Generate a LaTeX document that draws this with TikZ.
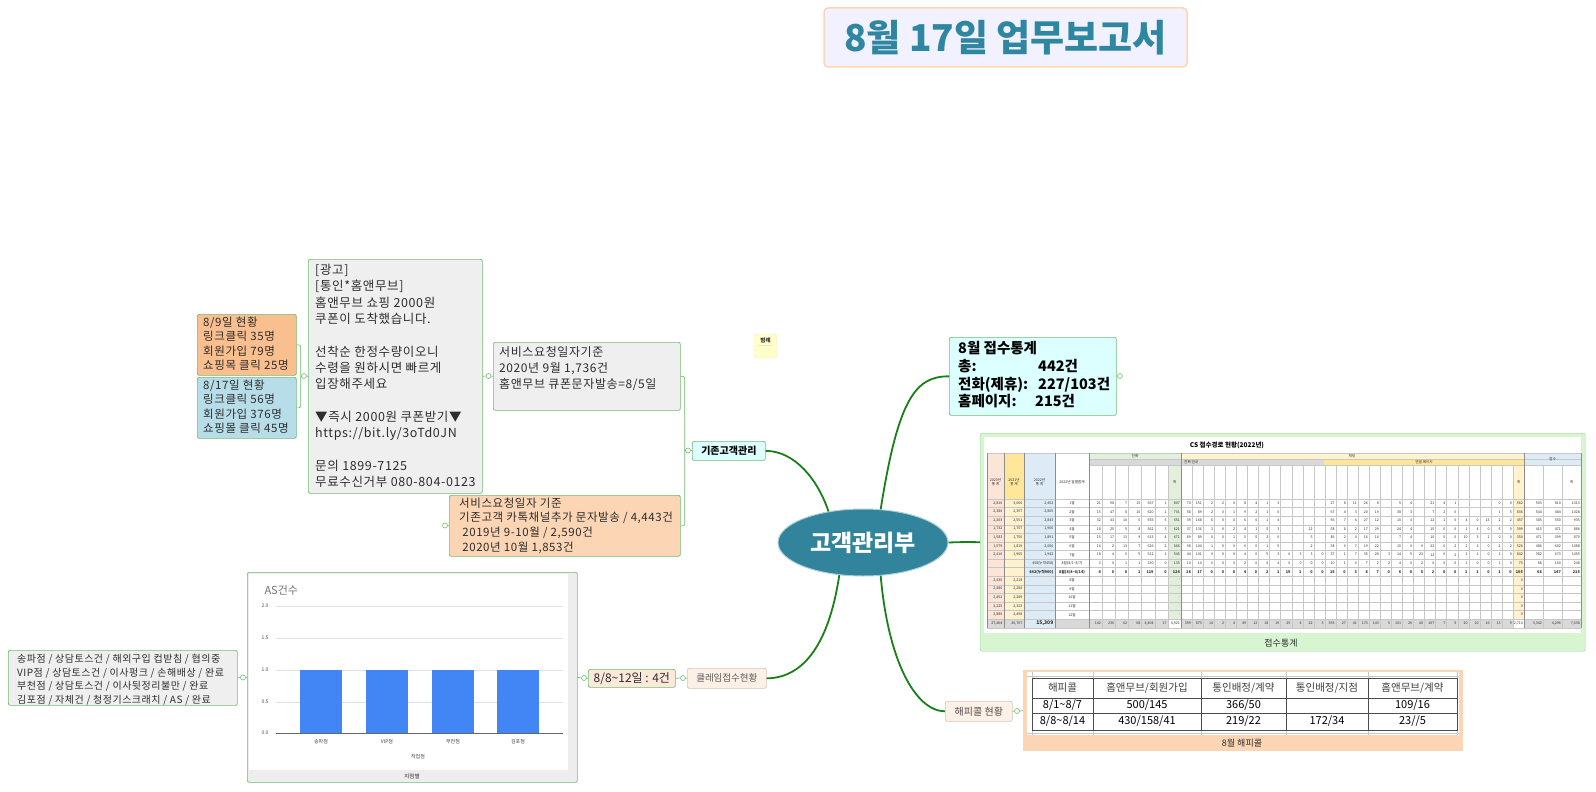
\documentclass[tikz,border=0pt]{standalone}
\usepackage{fontspec}
\setmainfont{Noto Sans CJK KR}
\newfontfamily\spacedfont[LetterSpace=5]{Noto Sans CJK KR}
\usetikzlibrary{positioning,shapes.geometric}

\definecolor{mapgreen}{RGB}{112,188,112}
\definecolor{branchgreen}{RGB}{24,128,24}
\definecolor{hubteal}{RGB}{49,132,155}
\definecolor{titleteal}{RGB}{46,134,160}
\definecolor{titlefill}{RGB}{241,241,255}
\definecolor{titleedge}{RGB}{252,214,180}
\definecolor{peachbox}{RGB}{250,191,143}
\definecolor{bluebox}{RGB}{183,221,232}
\definecolor{greybox}{RGB}{239,239,239}
\definecolor{apricot}{RGB}{252,213,180}
\definecolor{cyanbox}{RGB}{220,255,255}
\definecolor{creambox}{RGB}{253,240,230}
\definecolor{creamedge}{RGB}{214,198,184}
\definecolor{countfill}{RGB}{253,233,217}
\definecolor{legendfill}{RGB}{255,255,204}
\definecolor{legendedge}{RGB}{240,232,176}
\definecolor{barblue}{RGB}{66,133,244}
\definecolor{ink}{RGB}{45,45,45}
\definecolor{framegreen}{RGB}{214,245,208}
\definecolor{frameedge}{RGB}{150,214,150}
\definecolor{telgreen}{RGB}{226,239,218}
\definecolor{chatyellow}{RGB}{255,242,204}
\definecolor{chatgold}{RGB}{255,230,153}
\definecolor{webblue}{RGB}{221,235,247}
\definecolor{cellgrey}{RGB}{217,217,217}
\definecolor{oldpeach}{RGB}{252,228,214}

\tikzset{
  panel/.style={draw=mapgreen, line width=0.7pt, rounded corners=2pt, anchor=north west, inner sep=0pt},
  paneltext/.style={anchor=north west, inner sep=0pt, align=left, text=ink},
  knob/.style={circle, draw=mapgreen, fill=white, line width=0.6pt, inner sep=0pt, minimum size=5pt},
  link/.style={draw=mapgreen, line width=0.7pt},
  branch/.style={draw=branchgreen, line width=1.8pt},
  cell/.style={inner sep=0pt, align=center, font=\fontsize{3.6}{4}\selectfont, text=ink},
  tline/.style={draw=black!22, line width=0.25pt}
}

% table helpers
\newcommand{\rowy}[1]{494.7+8.57*#1}
\newcommand{\leadcells}[5]{%
  \node[cell, anchor=east] at (1002.5,{\rowy{#1}}) {#2};
  \node[cell, anchor=east] at (1022.5,{\rowy{#1}}) {#3};
  \node[cell, anchor=east] at (1053.5,{\rowy{#1}}) {#4};
  \node[cell] at (1072,{\rowy{#1}}) {#5};}
\newcommand{\telcells}[2]{\foreach \v [count=\i] in {#2}{\node[cell, anchor=east] at ({1088+13.143*\i},{\rowy{#1}}) {\v};}}
\newcommand{\chatcells}[2]{\foreach \v [count=\i] in {#2}{\node[cell, anchor=east] at ({1180+11.065*\i},{\rowy{#1}}) {\v};}}
\newcommand{\webcells}[2]{\foreach \v [count=\i] in {#2}{\node[cell, anchor=east] at ({1523+19*\i},{\rowy{#1}}) {\v};}}

\begin{document}
\begin{tikzpicture}[x=1pt,y=-1pt]
\useasboundingbox (0,0) rectangle (1596,792);
\fill[white] (0,0) rectangle (1596,792);

% Title
\node[draw=titleedge, fill=titlefill, line width=1.5pt, rounded corners=4pt, minimum width=363, minimum height=59,
  font=\bfseries\fontsize{37}{40}\selectfont, text=titleteal] (title) at (1005.5,37.5) {8월 17일 업무보고서};

% Centre topic
\node[ellipse, fill=hubteal, draw=hubteal!40, line width=1pt, minimum width=170, minimum height=67, inner sep=0pt,
  text=white, font=\bfseries\fontsize{23}{24}\selectfont] (hub) at (863,542.5) {고객관리부};

% Legend
\node[fill=legendfill, draw=legendedge, rounded corners=3pt, minimum width=23, minimum height=24, inner sep=0pt] (legend) at (765.5,346) {};
\node[font=\bfseries\fontsize{5.5}{6}\selectfont, text=ink] (legendtxt) at (765.5,340) {범례};
\draw[legendedge] (758,345.5) -- (773,345.5);

% Existing customers
\node[panel, fill=cyanbox, minimum width=73, minimum height=19, font=\bfseries\fontsize{10}{12}\selectfont] (oldcust) at (692,441) {기존고객관리};
\node[panel, fill=greybox, minimum width=187, minimum height=68] (svc) at (493,342) {};
\node[paneltext, font=\spacedfont\fontsize{12}{16}\selectfont] (svctext) at ([shift={(6,4)}]svc.north west)
  {서비스요청일자기준\\2020년 9월 1,736건\\홈앤무브 큐폰문자발송=8/5일};
\node[panel, fill=apricot, minimum width=231, minimum height=61] (oldsvc) at (449,495) {};
\node[paneltext, font=\spacedfont\fontsize{11.5}{14.7}\selectfont] (oldsvctext) at ([shift={(10,2.5)}]oldsvc.north west)
  {서비스요청일자 기준\\기존고객 카톡채널추가 문자발송 / 4,443건\\\ 2019년 9-10월 / 2,590건\\\ 2020년 10월 1,853건};

% Coupon message
\node[panel, fill=greybox, minimum width=174, minimum height=234] (ad) at (308,259) {};
\node[paneltext, font=\spacedfont\fontsize{12.5}{16.3}\selectfont] (adtext) at ([shift={(7,5)}]ad.north west)
  {{[}광고{]}\\{[}통인*홈앤무브{]}\\홈앤무브 쇼핑 2000원\\쿠폰이 도착했습니다.\\[16.3pt]
   선착순 한정수량이오니\\수령을 원하시면 빠르게\\입장해주세요\\[16.3pt]
   ▼즉시 2000원 쿠폰받기▼\\https://bit.ly/3oTd0JN\\[16.3pt]
   문의 1899-7125\\무료수신거부 080-804-0123};
\node[panel, fill=peachbox, minimum width=99, minimum height=61] (day9) at (197,314) {};
\node[paneltext, font=\spacedfont\fontsize{11.5}{14.5}\selectfont] (day9text) at ([shift={(6,2.5)}]day9.north west)
  {8/9일 현황\\링크클릭 35명\\회원가입 79명\\쇼핑목 클릭 25명};
\node[panel, fill=bluebox, minimum width=99, minimum height=61] (day17) at (197,377) {};
\node[paneltext, font=\spacedfont\fontsize{11.5}{14.5}\selectfont] (day17text) at ([shift={(6,2.5)}]day17.north west)
  {8/17일 현황\\링크클릭 56명\\회원가입 376명\\쇼핑몰 클릭 45명};

% August statistics
\node[panel, fill=cyanbox, minimum width=167, minimum height=78] (stats) at (949,337) {};
\node[paneltext, font=\bfseries\fontsize{14.5}{17.6}\selectfont, text=black] (statstext) at ([shift={(9,4.5)}]stats.north west)
  {8월 접수통계\\\makebox[80pt][l]{총:}442건\\\makebox[80pt][l]{전화(제휴):}227/103건\\\makebox[77pt][l]{홈페이지:}215건};

% Happy call
\node[panel, draw=creamedge, fill=creambox, minimum width=67, minimum height=20, font=\fontsize{10}{12}\selectfont, text=black!70] (happy) at (945,701) {해피콜 현황};
\node[anchor=north west, fill=apricot, minimum width=440, minimum height=81, inner sep=0pt] (hcframe) at (1023,670) {};
\fill[white] (1027,672) rectangle (1459,735);
\foreach \x in {1032,1093,1201,1286,1368,1457} \draw[tline] (\x,672) -- (\x,735);
\draw[tline] (1027,676) -- (1459,676) (1027,733) -- (1459,733);
\draw[black!70, line width=0.8pt] (1032,678) rectangle (1457,730);
\draw[black!70, line width=0.6pt] (1032,698) -- (1457,698) (1032,713) -- (1457,713);
\foreach \x in {1093,1201,1286,1368} \draw[black!70, line width=0.6pt] (\x,678) -- (\x,730);
\foreach \x/\t in {1062.5/해피콜, 1147/{홈앤무브/회원가입}, 1243.5/{통인배정/계약}, 1327/{통인배정/지점}, 1412.5/{홈앤무브/계약}}
  \node[font=\fontsize{10.5}{12}\selectfont, text=black!75] at (\x,688) {\t};
\foreach \x/\t in {1062.5/{8/1\textasciitilde8/7}, 1147/{500/145}, 1243.5/{366/50}, 1412.5/{109/16}}
  \node[font=\fontsize{11}{12}\selectfont] at (\x,705.5) {\t};
\foreach \x/\t in {1062.5/{8/8\textasciitilde8/14}, 1147/{430/158/41}, 1243.5/{219/22}, 1327/{172/34}, 1412.5/{23//5}}
  \node[font=\fontsize{11}{12}\selectfont] at (\x,721.5) {\t};
\node[font=\fontsize{9}{10}\selectfont, text=ink] (hccap) at (1242,743) {8월 해피콜};

% Claims
\node[panel, draw=creamedge, fill=creambox, minimum width=79, minimum height=20, font=\fontsize{9.5}{11}\selectfont, text=black!65] (claim) at (687,668) {클레임접수현황};
\node[panel, fill=countfill, minimum width=87, minimum height=18, font=\fontsize{12}{13}\selectfont, text=ink] (count) at (588,669) {8/8\textasciitilde12일 : 4건};
\node[panel, fill=greybox, minimum width=229, minimum height=55] (aslist) at (8,650) {};
\node[paneltext, font=\spacedfont\fontsize{10}{13.5}\selectfont] (aslisttext) at ([shift={(9,4)}]aslist.north west)
  {송파점 / 상담토스건 / 해외구입 컵받침 / 협의중\\VIP점 / 상담토스건 / 이사펑크 / 손해배상 / 완료\\부천점 / 상담토스건 / 이사뒷정리불만 / 완료\\김포점 / 자체건 / 청정기스크래치 / AS / 완료};

% Chart
\node[panel, fill=black!7, minimum width=330, minimum height=210] (chart) at (247,572) {};
\fill[white] (249,574) rectangle (568,770);
\node[anchor=west, text=black!55, font=\fontsize{11}{12}\selectfont] (astitle) at (261,590) {AS건수};
\foreach \v/\y in {2.0/606,1.5/638,1.0/670,0.5/702} {
  \draw[black!12, line width=0.6pt] (276,\y) -- (563,\y);
  \node[anchor=east, font=\fontsize{5}{6}\selectfont, text=black!70] at (272,\y) {\v};
}
\foreach \x/\t in {300/송파점,366/VIP점,432/부천점,497/김포점} {
  \fill[barblue] (\x,670) rectangle ({\x+42},733);
  \node[font=\fontsize{5}{6}\selectfont, text=black!75] at ({\x+21},742) {\t};
}
\draw[black!60, line width=0.7pt] (276,733) -- (563,733);
\node[anchor=east, font=\fontsize{5}{6}\selectfont, text=black!70] at (272,733) {0.0};
\node[font=\fontsize{5}{6}\selectfont, text=black!75] (xtitle) at (418,757) {작업점};
\node[font=\fontsize{5.5}{6}\selectfont, text=ink] (chartcap) at (412,776) {지점별};

% CS table
\node[draw=frameedge, fill=framegreen, rounded corners=2pt, anchor=north west, minimum width=605, minimum height=218, inner sep=0pt] (csframe) at (980,433) {};
\fill[white] (984,437) rectangle (1581,633);
\fill[oldpeach] (987,453) rectangle (1004,619);
\fill[chatgold] (1004,453) rectangle (1024,499);
\fill[chatyellow] (1004,499) rectangle (1024,619);
\fill[webblue] (1024,453) rectangle (1055,628);
\fill[telgreen] (1089,453) rectangle (1181,459);
\fill[cellgrey] (1089,459) rectangle (1324,465);
\fill[chatyellow] (1181,453) rectangle (1524,459);
\fill[chatgold] (1324,459) rectangle (1524,465);
\fill[webblue] (1524,453) rectangle (1581,465);
\fill[telgreen] (1168,465) rectangle (1181,619);
\fill[chatyellow] (1513,465) rectangle (1524,619);
\fill[cellgrey] (987,619) rectangle (1024,628);
\fill[cellgrey] (1055,619) rectangle (1581,628);
\fill[white] (1168,619) rectangle (1181,628);
\fill[white] (1513,619) rectangle (1524,628);
\foreach \k in {0,...,14} \draw[tline] (987,{499+8.57*\k}) -- (1581,{499+8.57*\k});
\draw[tline] (987,628) -- (1581,628) (987,453) -- (1581,453) (1089,459) -- (1581,459) (1089,465) -- (1581,465);
\foreach \x in {987,1004,1024,1055,1089,1181,1524,1581} \draw[tline, draw=black!45] (\x,453) -- (\x,628);
\foreach \i in {1,...,6} \draw[tline] ({1089+13.143*\i},465) -- ({1089+13.143*\i},628);
\foreach \i in {1,...,30} \draw[tline] ({1181+11.065*\i},465) -- ({1181+11.065*\i},628);
\foreach \i in {1,2} \draw[tline] ({1524+19*\i},465) -- ({1524+19*\i},628);
\node[font=\bfseries\fontsize{6.5}{7}\selectfont, text=black] (cstitle) at (1227,445.5) {CS 접수경로 현황(2022년)};
\node[cell] at (1135,456) {전화};
\node[cell] at (1352,456) {채팅};
\node[cell] at (1552.5,459) {접수};
\node[cell, anchor=west] at (1184,462) {전화 안내};
\node[cell] at (1424,462) {연결 페이지};
\node[cell] at (995.5,482) {2020년\\통 계};
\node[cell] at (1014,482) {2021년\\통 계};
\node[cell] at (1039.5,482) {2022년\\통 계};
\node[cell] at (1072,482) {2022년 월별합계};
\node[cell] at (1174.5,482) {계};
\node[cell] at (1518.5,482) {계};
\node[cell] at (1571.5,482) {계};
% rows
\leadcells{1}{2,816}{3,060}{2,452}{1월}
\telcells{1}{21,98,7,15,667,1,807}
\chatcells{1}{74,151,2,2,0,8,4,1,3,{},{},{},{},27,8,11,26,8,{},5,4,{},21,4,1,{},{},{},0,0,562}
\webcells{1}{503,810,1313}
\leadcells{2}{2,380}{2,357}{2,865}{2월}
\telcells{2}{15,47,8,10,620,1,701}
\chatcells{2}{58,89,2,0,1,9,2,1,0,{},{},{},{},67,4,3,20,19,{},38,3,{},7,2,0,{},{},{},1,5,836}
\webcells{2}{544,484,1028}
\leadcells{3}{2,203}{2,551}{2,843}{3월}
\telcells{3}{32,43,10,6,555,5,651}
\chatcells{3}{39,168,6,0,0,6,0,1,4,{},{},{},{},56,7,6,27,12,{},10,4,{},12,1,0,4,0,13,2,2,457}
\webcells{3}{385,550,935}
\leadcells{4}{1,732}{1,757}{1,906}{4월}
\telcells{4}{18,25,5,8,562,3,621}
\chatcells{4}{37,136,3,0,2,4,1,5,3,{},{},12,{},58,8,2,17,29,{},24,4,{},15,0,0,1,4,0,5,0,399}
\webcells{4}{415,471,886}
\leadcells{5}{1,583}{1,750}{1,891}{5월}
\telcells{5}{15,17,13,9,613,4,671}
\chatcells{5}{69,89,0,0,1,5,5,2,0,{},{},5,{},86,2,4,16,16,{},7,4,{},10,0,0,10,3,1,0,0,350}
\webcells{5}{471,399,870}
\leadcells{6}{1,579}{1,819}{2,000}{6월}
\telcells{6}{16,2,13,7,626,2,666}
\chatcells{6}{58,104,1,0,0,6,0,1,5,{},{},2,{},38,0,7,19,22,{},15,0,9,22,0,2,2,1,0,2,2,526}
\webcells{6}{486,602,1088}
\leadcells{7}{2,416}{1,965}{1,942}{7월}
\telcells{7}{18,4,5,5,512,1,545}
\chatcells{7}{44,101,0,0,0,4,0,5,3,6,3,3,0,37,1,7,35,28,3,14,5,23,12,0,2,1,1,0,1,0,842}
\webcells{7}{382,673,1055}
\leadcells{8}{}{}{458(누적458)}{8월(8/1\textasciitilde8/7)}
\telcells{8}{3,0,1,1,130,0,135}
\chatcells{8}{10,10,0,0,0,2,0,0,4,0,0,0,0,10,1,0,7,2,2,4,0,2,6,0,0,1,0,0,1,0,75}
\webcells{8}{88,160,248}
\begin{scope}[cell/.append style={font=\bfseries\fontsize{3.8}{4}\selectfont}]
\leadcells{9}{}{}{442(누적900)}{8월(8/8\textasciitilde8/14)}
\telcells{9}{4,0,0,1,119,0,124}
\chatcells{9}{18,17,0,0,0,4,0,2,1,19,1,0,0,15,0,3,8,7,0,6,0,5,2,0,0,1,1,0,1,0,105}
\webcells{9}{68,147,215}
\end{scope}
\leadcells{10}{2,430}{2,218}{}{8월}
\leadcells{11}{2,480}{2,284}{}{9월}
\leadcells{12}{2,452}{2,289}{}{10월}
\leadcells{13}{2,225}{2,323}{}{11월}
\leadcells{14}{2,886}{2,498}{}{12월}
\foreach \k in {10,...,14} {
  \node[cell, anchor=east] at (1180,{\rowy{\k}}) {-};
  \node[cell, anchor=east] at (1523,{\rowy{\k}}) {0};
}
\leadcells{15}{27,404}{26,707}{}{}
\node[cell, anchor=east, font=\bfseries\fontsize{5}{5}\selectfont] at (1053.5,{\rowy{15}}) {15,309};
\telcells{15}{142,236,62,68,{4,404},17,{4,921}}
\chatcells{15}{399,873,14,2,4,49,12,18,19,29,4,22,3,393,27,41,175,143,5,101,26,40,107,7,5,20,10,16,13,9,{2,710}}
\webcells{15}{{3,342},{4,296},{7,638}}
\node[font=\fontsize{9}{10}\selectfont, text=ink] (cscap) at (1281,643) {접수통계};

% Knobs
\node[knob] (k1) at (304,376) {};
\node[knob] (k2) at (488.5,376) {};
\node[knob] (k3) at (688,450.5) {};
\node[knob] (k4) at (445,525.5) {};
\node[knob] (k5) at (1120,376) {};
\node[knob] (k6) at (1017,711) {};
\node[knob] (k7) at (683,678) {};
\node[knob] (k8) at (584,678) {};
\node[knob] (k9) at (243,677.5) {};

% Sub-topic connectors
\coordinate (adfork) at ([xshift=4]day9.east);
\draw[link, rounded corners=2pt] (day9.east) -- (adfork) |- (day17.east);
\draw[link] (adfork |- k1) -- (k1.west);
\draw[link] (k1.east) -- (ad.west);
\draw[link] (ad.east) -- (k2.west);
\draw[link] (k2.east) -- (svc.west);
\coordinate (custfork) at ([xshift=4]svc.east);
\draw[link, rounded corners=2pt] (svc.east) -- (custfork) |- (oldsvc.east);
\draw[link] (custfork |- k3) -- (k3.west);
\draw[link] (k3.east) -- (oldcust.west);
\draw[link] (oldsvc.west) -- (k4.east);
\draw[link] (stats.east) -- (k5.west);
\draw[link] (happy.east) -- (k6.west);
\draw[link] (k6.east) -- (hcframe.west);
\draw[link] (claim.west) -- (k7.east);
\draw[link] (k7.west) -- (count.east);
\draw[link] (count.west) -- (k8.east);
\draw[link] (k8.west) -- (chart.east);
\draw[link] (chart.west) -- (k9.east);
\draw[link] (k9.west) -- (aslist.east);

% Main branches
\draw[branch] (hub.138) .. controls (818,480) and (795,451) .. (oldcust.east);
\draw[branch] (hub.62) .. controls (898,400) and (915,376) .. (stats.west);
\draw[branch] (hub.east) .. controls (962,542) and (966,542) .. (csframe.west);
\draw[branch] (hub.-62) .. controls (888,660) and (915,711) .. (happy.west);
\draw[branch] (hub.234) .. controls (828,650) and (800,678) .. (claim.east);
\end{tikzpicture}
\end{document}
